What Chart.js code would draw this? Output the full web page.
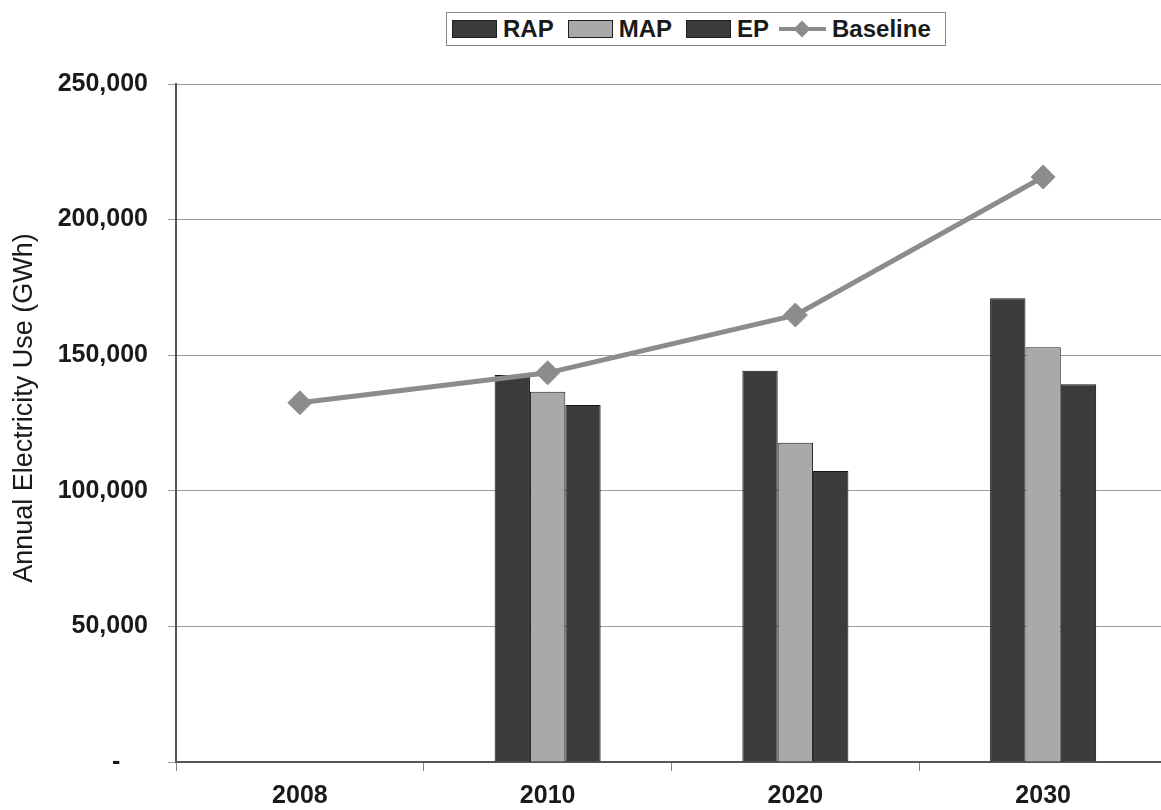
<!DOCTYPE html>
<html>
<head>
<meta charset="utf-8">
<script src="https://cdn.jsdelivr.net/npm/chart.js@4.4.1/dist/chart.umd.min.js"></script>
<style>
  html, body { margin: 0; padding: 0; background: #fff; overflow: hidden; }
  #wrap { position: relative; width: 1161px; height: 810px; overflow: hidden; }
  #legend {
    position: absolute; left: 446px; top: 12px; height: 32px;
    border: 1px solid #8a8a8a; display: flex; align-items: center;
    padding: 0 14px 0 5px; font: bold 24px "Liberation Sans", Arial, sans-serif; color: #1a1a1a;
    background: #fff; z-index: 2; white-space: nowrap;
  }
  .item { display: flex; align-items: center; margin-right: 14px; }
  .item:nth-child(3) { margin-right: 10px; }
  .item:last-child { margin-right: 0; }
  .swatch { width: 45px; height: 18px; border: 1px solid #1e1e1e; margin-right: 6px; box-sizing: border-box; }
  .lineSw { position: relative; width: 47px; height: 18px; margin-right: 6px; }
  .lineSw::before { content: ""; position: absolute; left: 0; right: 0; top: 7px; height: 4px; background: #8c8c8c; }
  .lineSw::after { content: ""; position: absolute; left: 17px; top: 3px; width: 12px; height: 12px; background: #8c8c8c; transform: rotate(45deg); }
  canvas { position: absolute; left: 0; top: 0; }
</style>
</head>
<body>
<div id="wrap">
  <div id="legend"></div>
  <canvas id="c" width="1180" height="810" style="width:1180px;height:810px"></canvas>
</div>
<script>
// Annual electricity use by scenario (GWh)
const years = ['2008', '2010', '2020', '2030'];
const rap = [null, 142700, 144300, 171000];
const map = [null, 136500, 117700, 152900];
const ep = [null, 131600, 107300, 139300];
const baseline = [132500, 143500, 164800, 215700];
const yTicks = [0, 50000, 100000, 150000, 200000, 250000];

const DARK = '#3b3b3b';
const LIGHT = '#a9a9a9';
const LINE = '#8c8c8c';
const FONT = '"Liberation Sans", Arial, sans-serif';

const datasets = [
  { type: 'bar', label: 'RAP', data: rap, backgroundColor: DARK, borderColor: '#151515', borderWidth: 1, order: 1 },
  { type: 'bar', label: 'MAP', data: map, backgroundColor: LIGHT, borderColor: '#1e1e1e', borderWidth: 1, order: 1 },
  { type: 'bar', label: 'EP', data: ep, backgroundColor: DARK, borderColor: '#151515', borderWidth: 1, order: 1 },
  { type: 'line', label: 'Baseline', data: baseline, borderColor: LINE, borderWidth: 5,
    pointStyle: 'rectRot', pointRadius: 12, pointHoverRadius: 12,
    pointBackgroundColor: LINE, pointBorderColor: LINE, pointBorderWidth: 1,
    fill: false, tension: 0, order: 0 }
];

// HTML legend built from the dataset list
const legend = document.getElementById('legend');
datasets.forEach(ds => {
  const item = document.createElement('div');
  item.className = 'item';
  const sw = document.createElement('div');
  if (ds.type === 'line') {
    sw.className = 'lineSw';
  } else {
    sw.className = 'swatch';
    sw.style.background = ds.backgroundColor;
  }
  const txt = document.createElement('span');
  txt.textContent = ds.label;
  item.appendChild(sw);
  item.appendChild(txt);
  legend.appendChild(item);
});

new Chart(document.getElementById('c'), {
  data: { labels: years, datasets },
  options: {
    responsive: false,
    animation: false,
    layout: { padding: { top: 84, right: 4, bottom: 0, left: 0 } },
    datasets: { bar: { categoryPercentage: 0.428, barPercentage: 1.0 } },
    plugins: { legend: { display: false }, tooltip: { enabled: false } },
    scales: {
      x: {
        type: 'category',
        offset: true,
        grid: { offset: true, drawOnChartArea: false, drawTicks: true, tickLength: 9, color: '#8a8a8a' },
        border: { display: true, color: '#555', width: 2 },
        ticks: { color: '#1a1a1a', padding: 10, font: { family: FONT, size: 25, weight: 'bold' } },
        afterFit: s => { s.height = 48; s.paddingLeft = 0; s.paddingRight = 0; }
      },
      y: {
        min: 0, max: 250000,
        afterBuildTicks: s => { s.ticks = yTicks.map(v => ({ value: v })); },
        grid: { color: '#9c9c9c', lineWidth: 1, drawTicks: true, tickLength: 8 },
        border: { display: true, color: '#555', width: 2 },
        ticks: {
          color: '#1a1a1a', padding: 20,
          font: { family: FONT, size: 25, weight: 'bold' },
          callback: v => v === 0 ? '-    ' : v.toLocaleString('en-US')
        },
        title: {
          display: true, text: '    Annual Electricity Use (GWh)', color: '#1a1a1a',
          font: { family: FONT, size: 27 }, padding: { top: 8, bottom: 0 }
        },
        afterFit: s => { s.width = 176; }
      }
    }
  }
});
</script>
</body>
</html>
